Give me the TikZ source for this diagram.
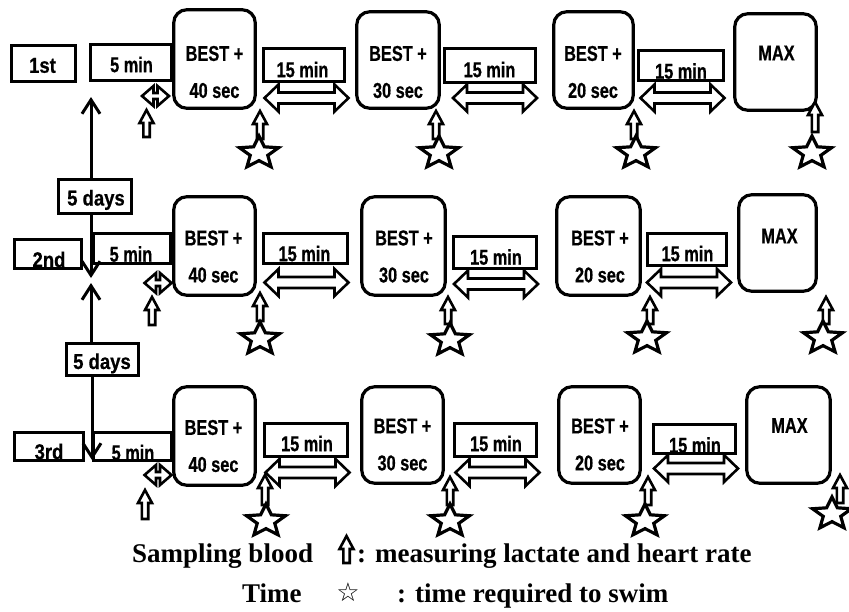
\documentclass[tikz,border=0pt]{standalone}
\usepackage{fontspec}
\usetikzlibrary{arrows.meta}
\newfontfamily\sfcond[UprightFont={* Bold},FakeStretch=0.76,FakeBold=0.6]{Liberation Sans}
\newfontfamily\sflab[UprightFont={* Bold},FakeStretch=0.86,FakeBold=0.6]{Liberation Sans}
\newfontfamily\serifb{Liberation Serif}
\newfontfamily\symf{DejaVu Sans}
\def\srx{20.5}\def\sry{17}\def\sri{0.45}
\newcommand\dblarr[6]{\draw[hollow] ({#1-#3},{#2}) -- ({#1-#3+#4},{#2-#5}) -- ({#1-#3+#4},{#2-#6}) -- ({#1+#3-#4},{#2-#6}) -- ({#1+#3-#4},{#2-#5}) -- ({#1+#3},{#2}) -- ({#1+#3-#4},{#2+#5}) -- ({#1+#3-#4},{#2+#6}) -- ({#1-#3+#4},{#2+#6}) -- ({#1-#3+#4},{#2+#5}) -- cycle;}
\newcommand\bigdbl[2]{\dblarr{#1}{#2}{42}{14}{13.5}{5.5}}
\newcommand\smalldbl[2]{\dblarr{#1}{#2}{13.5}{11.5}{10}{3}}
\newcommand\uparr[3]{\draw[hollow] ({#1},{#2}) -- ({#1+7},{#2+13}) -- ({#1+3.2},{#2+13}) -- ({#1+3.2},{#2+#3}) -- ({#1-3.2},{#2+#3}) -- ({#1-3.2},{#2+13}) -- ({#1-7},{#2+13}) -- cycle;}
\newcommand\starmk[2]{\draw[starst] ({#1},{#2-\sry}) \foreach \ang/\rad in {126/\sri,162/1,198/\sri,234/1,270/\sri,306/1,342/\sri,18/1,54/\sri}{ -- ({#1+\srx*\rad*cos(\ang)},{#2-\sry*\rad*sin(\ang)})} -- cycle;}
\tikzset{
  sbox/.style={draw, line width=3.2, fill=white, inner sep=0},
  rbox/.style={draw, line width=3.2, fill=white, rounded corners=13, inner sep=0},
  txt/.style={inner sep=0, align=center, font=\sfcond\fontsize{21.5}{37}\selectfont},
  labtxt/.style={inner sep=0, font=\sflab\fontsize{21.5}{24}\selectfont},
  legtxt/.style={inner sep=0, anchor=base west, font=\serifb\bfseries\fontsize{27}{27}\selectfont},
  hollow/.style={draw, line width=2.6, fill=white, line join=miter},
  starst/.style={draw, line width=3.2, fill=white, line join=miter},
  varr/.style={line width=3, -{Straight Barb[length=14pt,width=18pt]}}
}
\begin{document}
\begin{tikzpicture}[x=1pt,y=-1pt]
\useasboundingbox (0,0) rectangle (849,611);

% ---------- Row 1 ----------
\node[sbox, minimum width=63.5, minimum height=35.5] (r1lab) at (43.5,63.5) {};
\node[labtxt] (r1labt) at (42.5,65.5) {1st};
\node[sbox, minimum width=80.5, minimum height=35.5] (r1m5) at (131,62.5) {};
\node[txt] (r1m5t) at (131.5,64.5) {5 min};
\node[rbox, minimum width=81.5, minimum height=98.5] (r1b1) at (214.5,59) {};
\node[txt] (r1b1t) at (214.5,72) {BEST +\\40 sec};
\node[sbox, minimum width=80.5, minimum height=32.5] (r1m15a) at (304,65) {};
\node[txt] (r1m15at) at (302.5,69.5) {15 min};
\node[rbox, minimum width=82.5, minimum height=96.5] (r1b2) at (398,60) {};
\node[txt] (r1b2t) at (398,72) {BEST +\\30 sec};
\node[sbox, minimum width=90.5, minimum height=33.5] (r1m15b) at (490,65.5) {};
\node[txt] (r1m15bt) at (489.5,69.5) {15 min};
\node[rbox, minimum width=79.5, minimum height=96.5] (r1b3) at (593.5,60) {};
\node[txt] (r1b3t) at (593,72) {BEST +\\20 sec};
\node[sbox, minimum width=84.5, minimum height=29.5] (r1m15c) at (681,65.5) {};
\node[txt] (r1m15ct) at (681,71) {15 min};
\node[rbox, minimum width=81.5, minimum height=96.5] (r1max) at (775.5,62) {};
\node[txt] (r1maxt) at (776.5,53) {MAX};

\bigdbl{306.5}{98}
\bigdbl{495}{98}
\bigdbl{682.5}{98}
\smalldbl{155.5}{96}
\uparr{146.5}{110}{27}
\uparr{260}{111}{28}  \starmk{259}{153}
\uparr{436}{111}{28}  \starmk{439}{153}
\uparr{634}{111}{28}  \starmk{636}{153}
\uparr{815}{102}{30}  \starmk{812}{153}

% ---------- Row 2 ----------
\node[sbox, minimum width=72.5, minimum height=33.5] (days1) at (95,196.5) {};
\node[labtxt, anchor=base] (days1t) at (96,205.5) {5 days};
\node[sbox, minimum width=66.5, minimum height=28.5] (r2lab) at (48,254) {};
\node[labtxt] (r2labt) at (49,259.5) {2nd};
\node[sbox, minimum width=76.5, minimum height=29.5] (r2m5) at (132,248.5) {};
\node[txt] (r2m5t) at (131,254) {5 min};
\node[rbox, minimum width=81.5, minimum height=98.5] (r2b1) at (214.5,246) {};
\node[txt] (r2b1t) at (213.5,256.5) {BEST +\\40 sec};
\node[sbox, minimum width=83.5, minimum height=29.5] (r2m15a) at (305.5,248.5) {};
\node[txt] (r2m15at) at (304.5,253.5) {15 min};
\node[rbox, minimum width=83.5, minimum height=98.5] (r2b2) at (403.5,246) {};
\node[txt] (r2b2t) at (404,256.5) {BEST +\\30 sec};
\node[sbox, minimum width=82.5, minimum height=31.5] (r2m15b) at (495,252.5) {};
\node[txt] (r2m15bt) at (496,257) {15 min};
\node[rbox, minimum width=83.5, minimum height=98.5] (r2b3) at (598.5,246) {};
\node[txt] (r2b3t) at (600,256.5) {BEST +\\20 sec};
\node[sbox, minimum width=78.5, minimum height=31.5] (r2m15c) at (687,249.5) {};
\node[txt] (r2m15ct) at (687.5,253.5) {15 min};
\node[rbox, minimum width=77.5, minimum height=96.5] (r2max) at (777.5,243) {};
\node[txt] (r2maxt) at (779.5,236) {MAX};

\bigdbl{306.5}{282.5}
\bigdbl{496}{284}
\bigdbl{689}{282.5}
\smalldbl{158}{283}
\uparr{152}{297}{28}
\uparr{260}{293}{28}  \starmk{260}{339}
\uparr{448}{297}{27}  \starmk{450}{340}
\uparr{650}{297}{27}  \starmk{647}{338}
\uparr{826}{297}{27}  \starmk{823}{338}

% ---------- Row 3 ----------
\node[sbox, minimum width=71.5, minimum height=31.5] (days2) at (102.5,359.5) {};
\node[labtxt, anchor=base] (days2t) at (102,369) {5 days};
\node[sbox, minimum width=68.5, minimum height=27.5] (r3lab) at (49,446.5) {};
\node[labtxt] (r3labt) at (49,451.5) {3rd};
\node[sbox, minimum width=77.5, minimum height=27.5] (r3m5) at (132.5,446.5) {};
\node[txt] (r3m5t) at (133,452.5) {5 min};
\node[rbox, minimum width=81.5, minimum height=98.5] (r3b1) at (214.5,436) {};
\node[txt] (r3b1t) at (213.5,446) {BEST +\\40 sec};
\node[sbox, minimum width=82.5, minimum height=32.5] (r3m15a) at (306,440) {};
\node[txt] (r3m15at) at (307,443.5) {15 min};
\node[rbox, minimum width=81.5, minimum height=96.5] (r3b2) at (402.5,435) {};
\node[txt] (r3b2t) at (402.5,444.5) {BEST +\\30 sec};
\node[sbox, minimum width=81.5, minimum height=32.5] (r3m15b) at (495.5,440) {};
\node[txt] (r3m15bt) at (496,443.5) {15 min};
\node[rbox, minimum width=81.5, minimum height=96.5] (r3b3) at (599.5,435) {};
\node[txt] (r3b3t) at (600,444.5) {BEST +\\20 sec};
\node[sbox, minimum width=81.5, minimum height=28.5] (r3m15c) at (694.5,439) {};
\node[txt] (r3m15ct) at (695,445) {15 min};
\node[rbox, minimum width=83.5, minimum height=96.5] (r3max) at (788.5,435) {};
\node[txt] (r3maxt) at (789.5,425.5) {MAX};

\bigdbl{307.5}{472.5}
\bigdbl{497.5}{472.5}
\bigdbl{696}{468.5}
\smalldbl{158}{475}
\uparr{145}{490}{29}
\uparr{265}{475}{30}  \starmk{266}{521}
\uparr{450}{477}{28}  \starmk{450}{521}
\uparr{648}{477}{28}  \starmk{645}{521}
\uparr{840}{475}{28}  \starmk{832}{514}

% ---------- long vertical arrows ----------
\coordinate (t1) at (91,97);
\coordinate (t2) at (91,278);
\coordinate (t3) at (91,283);
\coordinate (t4) at (92,460);
\draw[varr] (t1 |- days1.north) -- (t1);
\draw[varr] (t2 |- days1.south) -- (t2);
\draw[varr] (t3 |- days2.north) -- (t3);
\draw[varr] (t4 |- days2.south) -- (t4);

% ---------- legend ----------
\node[legtxt] (leg1) at (132,562) {Sampling blood};
\uparr{346.5}{536}{27}
\node[legtxt] (leg2) at (357,562) {: measuring lactate and heart rate};
\node[legtxt] (leg3) at (242,602) {Time};
\node[inner sep=0, anchor=base, font=\symf\fontsize{26}{26}\selectfont] (leg4) at (348,601) {☆};
\node[legtxt] (leg5) at (397,602) {: time required to swim};
\end{tikzpicture}
\end{document}
